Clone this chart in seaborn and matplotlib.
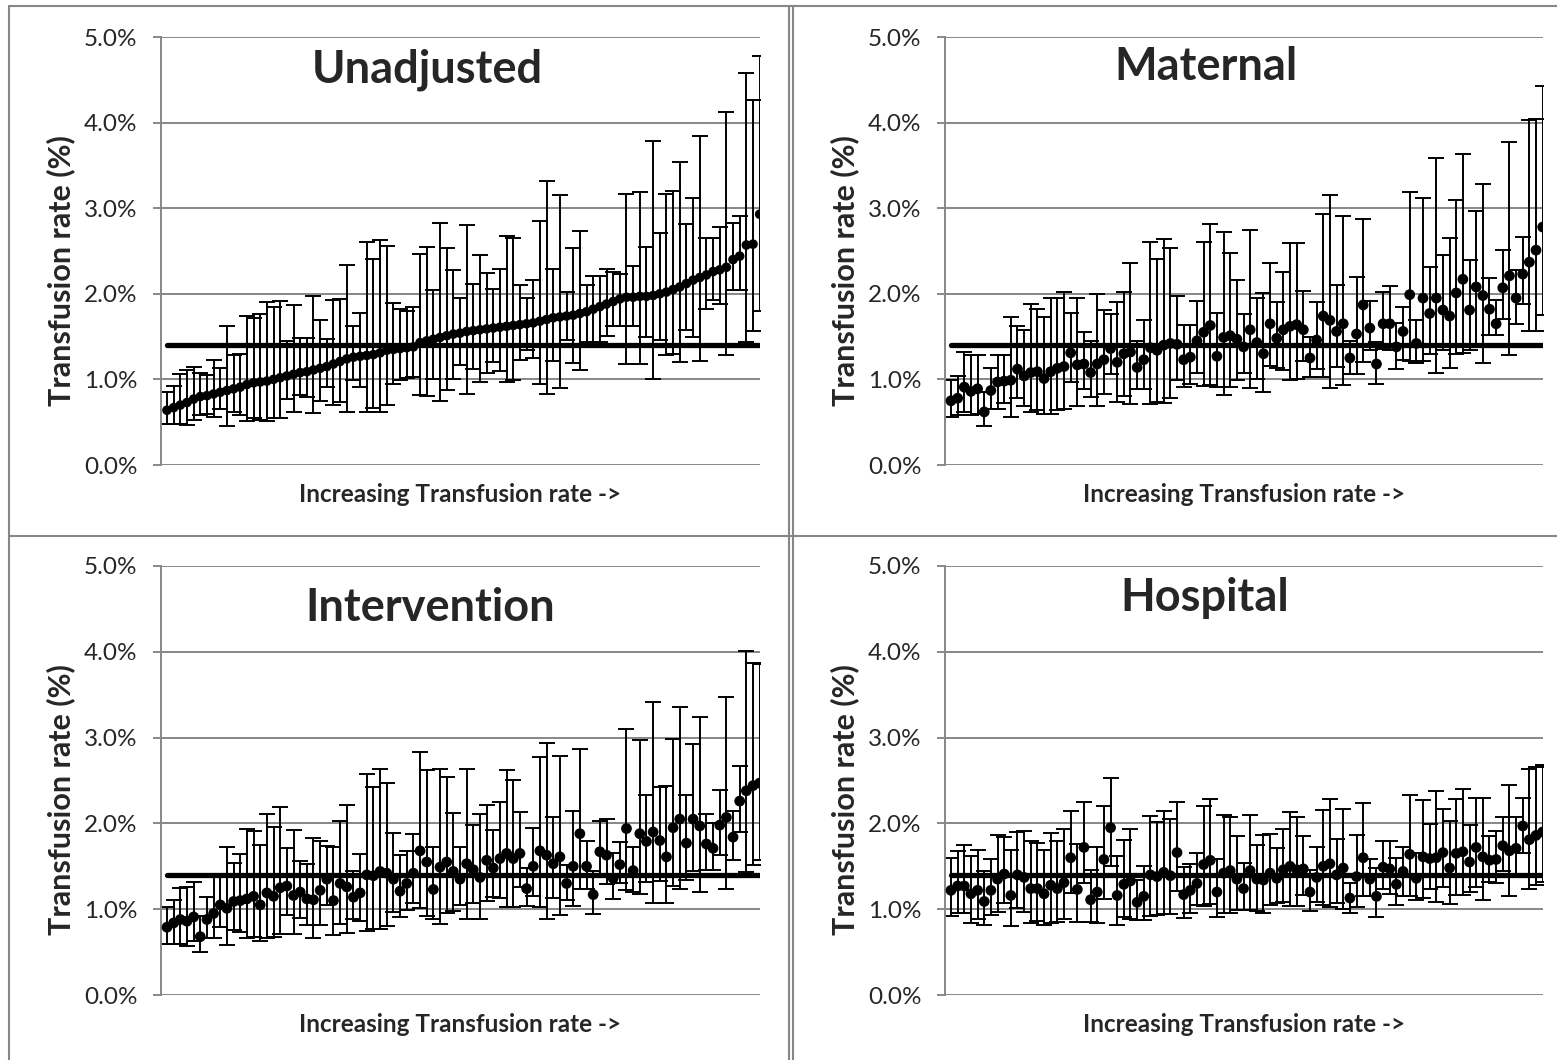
import numpy as np
import matplotlib
matplotlib.use("Agg")
import matplotlib.pyplot as plt
from matplotlib.lines import Line2D
from matplotlib.ticker import FuncFormatter, MultipleLocator
import seaborn as sns

# hospital transfusion rates (%) with 95% CI, ordered by the unadjusted rate
unadj_rate = [0.64, 0.67, 0.70, 0.73, 0.77, 0.80, 0.81, 0.83, 0.85, 0.87,
              0.89, 0.91, 0.94, 0.96, 0.97, 0.98, 1.00, 1.02, 1.04, 1.06,
              1.08, 1.09, 1.11, 1.13, 1.15, 1.18, 1.21, 1.24, 1.26, 1.27,
              1.28, 1.29, 1.31, 1.34, 1.35, 1.36, 1.37, 1.38, 1.43, 1.45,
              1.47, 1.49, 1.51, 1.53, 1.54, 1.56, 1.57, 1.58, 1.59, 1.60,
              1.61, 1.62, 1.63, 1.64, 1.65, 1.66, 1.68, 1.70, 1.72, 1.73,
              1.74, 1.75, 1.77, 1.79, 1.82, 1.85, 1.88, 1.91, 1.94, 1.96,
              1.96, 1.97, 1.97, 1.98, 2.00, 2.02, 2.05, 2.08, 2.12, 2.16,
              2.19, 2.22, 2.26, 2.28, 2.31, 2.40, 2.44, 2.57, 2.58, 2.93]
unadj_hi = [0.85, 0.92, 1.06, 1.11, 1.15, 1.08, 1.05, 1.23, 1.13, 1.62,
            1.29, 1.30, 1.74, 1.72, 1.76, 1.90, 1.84, 1.92, 1.45, 1.87,
            1.48, 1.48, 1.97, 1.69, 1.47, 1.93, 1.94, 2.34, 1.62, 1.78,
            2.60, 2.41, 2.63, 2.56, 1.89, 1.82, 1.80, 1.85, 2.47, 2.55,
            2.04, 2.83, 2.54, 2.28, 1.95, 2.80, 2.12, 2.45, 2.24, 2.06,
            2.29, 2.67, 2.65, 2.10, 1.95, 2.16, 2.85, 3.32, 2.29, 3.15,
            2.02, 2.54, 2.73, 2.10, 2.21, 2.21, 2.29, 2.25, 2.23, 3.17,
            2.32, 3.19, 2.55, 3.79, 2.71, 3.17, 3.20, 3.54, 2.81, 3.12,
            3.84, 2.65, 2.65, 2.78, 4.12, 2.83, 2.91, 4.58, 4.26, 4.78]
unadj_lo = [0.48, 0.48, 0.48, 0.47, 0.52, 0.58, 0.60, 0.56, 0.65, 0.46,
            0.62, 0.58, 0.51, 0.55, 0.53, 0.51, 0.55, 0.55, 0.77, 0.62,
            0.82, 0.79, 0.61, 0.75, 0.91, 0.70, 0.74, 0.62, 0.99, 0.91,
            0.62, 0.67, 0.62, 0.70, 0.95, 0.99, 1.02, 1.03, 0.82, 0.81,
            1.01, 0.75, 0.88, 1.00, 1.17, 0.83, 1.12, 0.97, 1.07, 1.20,
            1.10, 0.97, 0.99, 1.23, 1.34, 1.25, 0.95, 0.83, 1.21, 0.90,
            1.46, 1.19, 1.11, 1.44, 1.44, 1.44, 1.51, 1.62, 1.62, 1.18,
            1.62, 1.18, 1.50, 1.00, 1.46, 1.29, 1.30, 1.20, 1.58, 1.49,
            1.22, 1.82, 1.93, 1.88, 1.29, 2.05, 2.04, 1.44, 1.57, 1.80]

mat_rate = [0.75, 0.78, 0.91, 0.86, 0.89, 0.62, 0.87, 0.97, 0.98, 0.99,
            1.12, 1.04, 1.08, 1.09, 1.01, 1.09, 1.13, 1.15, 1.31, 1.17,
            1.18, 1.08, 1.18, 1.23, 1.36, 1.20, 1.30, 1.32, 1.14, 1.23,
            1.37, 1.34, 1.40, 1.42, 1.41, 1.23, 1.26, 1.45, 1.55, 1.63,
            1.27, 1.49, 1.51, 1.47, 1.38, 1.58, 1.43, 1.30, 1.65, 1.48,
            1.58, 1.62, 1.64, 1.58, 1.25, 1.46, 1.74, 1.69, 1.56, 1.65,
            1.25, 1.53, 1.87, 1.60, 1.18, 1.65, 1.65, 1.38, 1.56, 1.99,
            1.42, 1.95, 1.77, 1.95, 1.81, 1.74, 2.01, 2.17, 1.81, 2.08,
            1.98, 1.82, 1.65, 2.07, 2.21, 1.95, 2.23, 2.37, 2.51, 2.78]
mat_hi = [0.99, 1.04, 1.32, 1.29, 1.29, 0.85, 1.13, 1.29, 1.29, 1.73,
          1.62, 1.58, 1.88, 1.82, 1.73, 1.95, 1.95, 2.02, 1.78, 1.95,
          1.55, 1.45, 2.00, 1.81, 1.76, 1.91, 2.02, 2.36, 1.45, 1.69,
          2.60, 2.41, 2.64, 2.54, 1.97, 1.64, 1.64, 1.92, 2.60, 2.82,
          1.78, 2.72, 2.48, 2.16, 1.76, 2.75, 1.95, 2.01, 2.36, 1.91,
          2.25, 2.59, 2.59, 2.03, 1.49, 1.90, 2.93, 3.15, 2.10, 2.91,
          1.45, 2.20, 2.87, 1.92, 1.44, 2.02, 2.09, 1.66, 1.84, 3.19,
          1.69, 3.12, 2.31, 3.59, 2.45, 2.65, 3.09, 3.63, 2.39, 2.97,
          3.28, 2.19, 1.93, 2.51, 3.77, 2.28, 2.66, 4.03, 4.04, 4.43]
mat_lo = [0.56, 0.58, 0.62, 0.58, 0.60, 0.46, 0.66, 0.66, 0.73, 0.56,
          0.78, 0.69, 0.62, 0.64, 0.60, 0.60, 0.64, 0.65, 0.97, 0.69,
          0.89, 0.79, 0.69, 0.83, 1.06, 0.74, 0.81, 0.71, 0.89, 0.89,
          0.71, 0.74, 0.73, 0.78, 0.99, 0.91, 0.95, 1.08, 0.92, 0.93,
          0.91, 0.82, 0.91, 0.99, 1.08, 0.90, 1.00, 0.85, 1.16, 1.13,
          1.11, 0.99, 1.01, 1.21, 1.03, 1.12, 1.03, 0.90, 1.15, 0.93,
          1.06, 1.06, 1.20, 1.34, 0.95, 1.36, 1.34, 1.12, 1.23, 1.21,
          1.19, 1.21, 1.30, 1.07, 1.34, 1.13, 1.30, 1.31, 1.34, 1.40,
          1.19, 1.52, 1.52, 1.70, 1.29, 1.65, 1.88, 1.56, 1.56, 1.75]

int_rate = [0.79, 0.84, 0.88, 0.86, 0.91, 0.68, 0.88, 0.95, 1.05, 1.01,
            1.09, 1.10, 1.12, 1.15, 1.05, 1.19, 1.15, 1.25, 1.27, 1.16,
            1.20, 1.12, 1.11, 1.22, 1.35, 1.10, 1.30, 1.26, 1.14, 1.19,
            1.40, 1.39, 1.44, 1.42, 1.35, 1.21, 1.30, 1.42, 1.68, 1.55,
            1.23, 1.49, 1.55, 1.44, 1.35, 1.53, 1.46, 1.37, 1.57, 1.48,
            1.59, 1.65, 1.59, 1.65, 1.24, 1.50, 1.68, 1.63, 1.53, 1.61,
            1.30, 1.50, 1.88, 1.50, 1.17, 1.67, 1.63, 1.36, 1.52, 1.94,
            1.45, 1.88, 1.79, 1.90, 1.80, 1.61, 1.95, 2.05, 1.77, 2.05,
            1.97, 1.76, 1.71, 1.98, 2.07, 1.84, 2.26, 2.38, 2.44, 2.47]
int_hi = [1.03, 1.11, 1.25, 1.26, 1.32, 0.92, 1.14, 1.37, 1.37, 1.73,
          1.54, 1.64, 1.93, 1.91, 1.75, 2.11, 1.96, 2.19, 1.71, 1.92,
          1.56, 1.53, 1.83, 1.79, 1.74, 1.72, 2.03, 2.21, 1.44, 1.64,
          2.57, 2.42, 2.63, 2.47, 1.89, 1.63, 1.68, 1.88, 2.83, 2.62,
          1.73, 2.63, 2.54, 2.12, 1.73, 2.63, 1.98, 2.11, 2.21, 1.92,
          2.25, 2.62, 2.51, 2.13, 1.48, 1.95, 2.77, 2.94, 2.07, 2.79,
          1.52, 2.15, 2.87, 1.79, 1.44, 2.03, 2.05, 1.65, 1.78, 3.10,
          1.72, 2.97, 2.33, 3.41, 2.43, 2.44, 2.98, 3.36, 2.33, 2.93,
          3.24, 2.11, 2.00, 2.39, 3.47, 2.15, 2.67, 4.01, 3.87, 3.86]
int_lo = [0.59, 0.60, 0.60, 0.57, 0.63, 0.50, 0.66, 0.66, 0.79, 0.58,
          0.76, 0.73, 0.66, 0.68, 0.63, 0.67, 0.68, 0.71, 0.93, 0.71,
          0.90, 0.82, 0.67, 0.82, 1.05, 0.70, 0.83, 0.72, 0.88, 0.86,
          0.75, 0.77, 0.77, 0.80, 0.97, 0.91, 0.99, 1.07, 1.01, 0.92,
          0.89, 0.83, 0.95, 0.98, 1.05, 0.89, 1.07, 0.89, 1.10, 1.14,
          1.13, 1.02, 1.02, 1.26, 1.04, 1.15, 1.02, 0.89, 1.13, 0.93,
          1.11, 1.04, 1.23, 1.24, 0.94, 1.37, 1.29, 1.12, 1.30, 1.22,
          1.20, 1.18, 1.32, 1.07, 1.33, 1.07, 1.27, 1.24, 1.34, 1.45,
          1.20, 1.46, 1.46, 1.63, 1.24, 1.57, 1.90, 1.43, 1.52, 1.57]

hosp_rate = [1.22, 1.27, 1.27, 1.18, 1.22, 1.09, 1.22, 1.35, 1.41, 1.16,
             1.40, 1.37, 1.24, 1.24, 1.18, 1.28, 1.24, 1.31, 1.60, 1.23,
             1.72, 1.11, 1.20, 1.58, 1.95, 1.16, 1.29, 1.33, 1.08, 1.15,
             1.40, 1.38, 1.43, 1.39, 1.66, 1.17, 1.22, 1.30, 1.52, 1.57,
             1.20, 1.42, 1.45, 1.35, 1.24, 1.45, 1.35, 1.34, 1.42, 1.36,
             1.46, 1.50, 1.46, 1.47, 1.20, 1.37, 1.50, 1.53, 1.40, 1.48,
             1.13, 1.38, 1.60, 1.35, 1.15, 1.49, 1.47, 1.29, 1.44, 1.64,
             1.36, 1.61, 1.59, 1.60, 1.66, 1.48, 1.65, 1.67, 1.55, 1.72,
             1.61, 1.57, 1.58, 1.74, 1.68, 1.71, 1.97, 1.81, 1.86, 1.90]
hosp_hi = [1.60, 1.68, 1.75, 1.62, 1.69, 1.44, 1.59, 1.86, 1.84, 1.69,
           1.90, 1.91, 1.79, 1.77, 1.69, 1.89, 1.79, 1.93, 2.14, 1.76,
           2.25, 1.46, 1.72, 2.20, 2.53, 1.62, 1.81, 1.93, 1.34, 1.50,
           2.09, 2.02, 2.15, 2.05, 2.25, 1.49, 1.53, 1.66, 2.20, 2.29,
           1.58, 2.10, 2.07, 1.85, 1.54, 2.10, 1.75, 1.86, 1.88, 1.71,
           1.94, 2.13, 2.07, 1.85, 1.46, 1.73, 2.16, 2.29, 1.82, 2.17,
           1.31, 1.86, 2.24, 1.59, 1.48, 1.79, 1.80, 1.60, 1.72, 2.33,
           1.66, 2.27, 1.99, 2.38, 2.17, 2.03, 2.29, 2.40, 1.98, 2.30,
           2.30, 1.85, 1.91, 2.07, 2.45, 2.07, 2.30, 2.63, 2.66, 2.68]
hosp_lo = [0.92, 0.95, 0.95, 0.84, 0.88, 0.82, 0.93, 0.97, 1.07, 0.80,
           1.01, 0.97, 0.84, 0.86, 0.82, 0.84, 0.85, 0.89, 1.19, 0.85,
           1.31, 0.85, 0.84, 1.12, 1.50, 0.82, 0.91, 0.89, 0.87, 0.87,
           0.92, 0.93, 0.94, 0.94, 1.21, 0.90, 0.96, 1.05, 1.04, 1.06,
           0.91, 0.95, 0.96, 0.99, 0.99, 0.99, 0.98, 0.96, 1.05, 1.07,
           1.08, 1.04, 1.04, 1.17, 0.98, 1.08, 1.05, 1.03, 1.07, 1.00,
           0.96, 1.03, 1.15, 1.15, 0.91, 1.23, 1.18, 1.05, 1.15, 1.15,
           1.11, 1.13, 1.24, 1.08, 1.26, 1.06, 1.17, 1.16, 1.20, 1.26,
           1.11, 1.32, 1.30, 1.45, 1.15, 1.40, 1.66, 1.23, 1.28, 1.32]

overall_rate = 1.4   # pooled transfusion rate (%)

panels = [
    ("Unadjusted", unadj_rate, unadj_lo, unadj_hi),
    ("Maternal", mat_rate, mat_lo, mat_hi),
    ("Intervention", int_rate, int_lo, int_hi),
    ("Hospital", hosp_rate, hosp_lo, hosp_hi),
]

W, H = 1557, 1060
sns.set_style("white")
plt.rcParams['font.family'] = ['Lato', 'DejaVu Sans']

fig = plt.figure(figsize=(W / 100, H / 100), dpi=100)

def fx(x):
    return x / W

def fy(y):
    return 1 - y / H

# plot-area boxes in pixels: left, right, top(5%), bottom(0%)
boxes = [(161, 760, 37, 465), (945, 1543, 37, 465),
         (161, 760, 566, 995), (945, 1543, 566, 995)]
# title centres in pixels
title_pos = [(427, 70), (1206, 67), (430, 608), (1205, 598)]
marker_size = [48, 60, 60, 60]

grey = '#878787'

for k, (name, rate, lo, hi) in enumerate(panels):
    l, r, t, b = boxes[k]
    ax = fig.add_axes([fx(l), fy(b), fx(r) - fx(l), fy(t) - fy(b)])
    rate = np.array(rate)
    lo = np.array(lo)
    hi = np.array(hi)
    idx = np.arange(len(rate))

    ax.errorbar(idx, rate, yerr=[rate - lo, hi - rate], fmt='none',
                ecolor='black', elinewidth=1.4, capsize=5.5, capthick=1.4,
                zorder=2)
    ax.plot([idx[0], idx[-1]], [overall_rate, overall_rate], color='black',
            lw=3.8, solid_capstyle='round', zorder=3)
    sns.scatterplot(x=idx, y=rate, ax=ax, color='black', s=marker_size[k],
                    edgecolor='none', zorder=4, legend=False)

    ax.set_xlim(-0.9, len(rate) - 1 + 0.05)
    ax.set_ylim(0, 5)
    ax.yaxis.set_major_locator(MultipleLocator(1))
    ax.yaxis.set_major_formatter(FuncFormatter(lambda v, p: f"{v:.1f}%"))
    ax.set_xticks([])
    ax.yaxis.grid(True, color=grey, lw=1.4)
    ax.set_axisbelow(True)
    for s in ['top', 'right', 'bottom']:
        ax.spines[s].set_visible(False)
    ax.spines['left'].set_color(grey)
    ax.spines['left'].set_linewidth(1.4)
    ax.tick_params(axis='y', length=6, width=1.4, color=grey, labelsize=17.5,
                   pad=11, left=True)

    ax.set_ylabel("Transfusion rate (%)", fontsize=22, fontweight='bold')
    ax.yaxis.set_label_coords(-0.144, 0.455)
    ax.set_xlabel("Increasing Transfusion rate ->", fontsize=17.5,
                  fontweight='bold')
    ax.xaxis.set_label_coords(0.5, -0.043)

    tx, ty = title_pos[k]
    fig.text(fx(tx), fy(ty), name, fontsize=32.5, fontweight='bold',
             ha='center', va='center')

# chart borders
border = dict(color=grey, lw=1.5)
fig.add_artist(Line2D([fx(9), fx(9)], [fy(6), 0], **border))
fig.add_artist(Line2D([fx(9), 1], [fy(6), fy(6)], **border))
fig.add_artist(Line2D([fx(789), fx(789)], [fy(6), 0], **border))
fig.add_artist(Line2D([fx(793), fx(793)], [fy(6), 0], **border))
fig.add_artist(Line2D([fx(9), 1], [fy(536), fy(536)], **border))

fig.savefig("out.png", dpi=100)
